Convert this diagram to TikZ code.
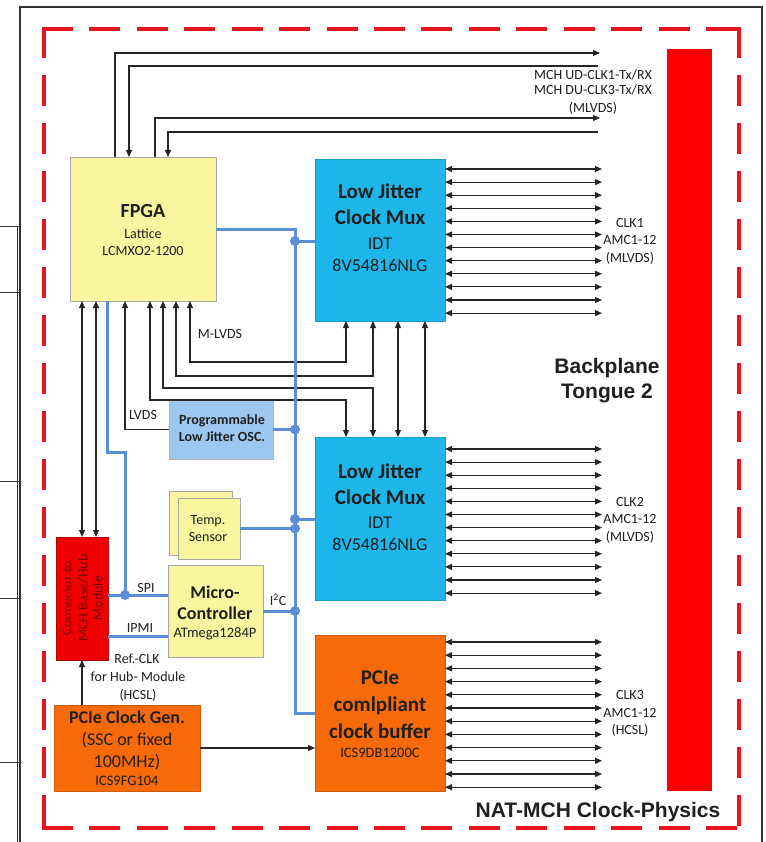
\documentclass[tikz,border=0pt]{standalone}
\usepackage{fontspec}
\setmainfont{Carlito}
\newfontfamily\headfont{Liberation Sans}
\usetikzlibrary{arrows.meta,calc}
\definecolor{yel}{HTML}{FAF6A0}
\definecolor{cyanbox}{HTML}{1CB6EA}
\definecolor{oscblue}{HTML}{9CC8F0}
\definecolor{orng}{HTML}{F86A08}
\definecolor{busblue}{HTML}{5A8FD8}
\definecolor{dashred}{HTML}{E8141E}
\definecolor{conred}{HTML}{F00000}
\definecolor{darkred}{HTML}{7A0000}
\newcommand\myfs[1]{\fontsize{#1}{#1}\selectfont}
\begin{document}
\begin{tikzpicture}[x=1pt,y=-1pt,
  box/.style={anchor=north west, inner sep=0pt, outer sep=0pt, line width=0.6pt},
  tx/.style={anchor=base, inner sep=0pt, text=black!88},
  ln/.style={draw=black!85, line width=1.1pt},
  ar/.style={ln, -{Triangle[length=7pt,width=6pt]}},
  dar/.style={ln, {Triangle[length=7pt,width=6pt]}-{Triangle[length=7pt,width=6pt]}},
  bus/.style={draw=busblue, line width=3pt},
  jdot/.style={circle, fill=busblue, inner sep=0pt, minimum size=10pt},
  frameln/.style={draw=black!80, line width=0.8pt},
]
\useasboundingbox (0,0) rectangle (765,842);
\fill[white] (0,0) rectangle (765,842);

% page frame and table remnants
\draw[draw=black!80, line width=1.5pt] (20,842) -- (20,7) -- (762,7) -- (762,842);
\draw[frameln] (17,226) -- (17,842);
\foreach \yy in {226,292,481,598,762} \draw[frameln] (0,\yy) -- (20,\yy);

% red dashed frame
\begin{scope}[draw=dashred, line width=4pt, line cap=rect]
  \draw[dash pattern=on 27pt off 20.43pt] (44,29) -- (739,29);
  \draw[dash pattern=on 27pt off 20.43pt] (44,828) -- (739,828);
  \draw[dash pattern=on 27pt off 21pt] (44,29) -- (44,828);
  \draw[dash pattern=on 27pt off 21pt] (739,29) -- (739,828);
\end{scope}

% backplane bar
\node[box, fill=red, minimum width=45pt, minimum height=742pt] (bp) at (667,49) {};

% boxes
\node[box, fill=yel, draw=black!35, minimum width=146pt, minimum height=144pt] (fpga) at (70,157) {};
\node[box, fill=cyanbox, draw=cyanbox!85!black, minimum width=130pt, minimum height=162pt] (mux1) at (315,159) {};
\node[box, fill=cyanbox, draw=cyanbox!85!black, minimum width=130pt, minimum height=163pt] (mux2) at (315,437) {};
\node[box, fill=orng, draw=orng!85!black, minimum width=130pt, minimum height=156pt] (pcie) at (315,635) {};
\node[box, fill=oscblue, draw=black!30, minimum width=104pt, minimum height=59pt] (osc) at (169,400) {};
\node[box, fill=yel, draw=black!35, minimum width=63pt, minimum height=64pt] (tempb) at (169,491) {};
\node[box, fill=yel, draw=black!35, minimum width=62pt, minimum height=61pt] (tempf) at (178,498) {};
\node[box, fill=yel, draw=black!35, minimum width=95pt, minimum height=92pt] (micro) at (168,565) {};
\node[box, fill=conred, draw=conred!75!black, minimum width=52pt, minimum height=123pt] (conn) at (56,537) {};
\node[box, fill=orng, draw=orng!85!black, minimum width=146pt, minimum height=86pt] (gen) at (54,705) {};

% box texts
\node[tx, font=\myfs{20}\bfseries] (fpgaA) at (143,218) {FPGA};
\node[tx, font=\myfs{14}] (fpgaB) at (143,238.5) {Lattice};
\node[tx, font=\myfs{14}] (fpgaC) at (143,255.5) {LCMXO2-1200};

\node[tx, font=\myfs{21}\bfseries] (m1a) at (380,199) {Low Jitter};
\node[tx, font=\myfs{21}\bfseries] (m1b) at (380,225) {Clock Mux};
\node[tx, font=\myfs{18}] (m1c) at (380,249) {IDT};
\node[tx, font=\myfs{18}] (m1d) at (380,271) {8V54816NLG};

\node[tx, font=\myfs{21}\bfseries] (m2a) at (380,478) {Low Jitter};
\node[tx, font=\myfs{21}\bfseries] (m2b) at (380,504) {Clock Mux};
\node[tx, font=\myfs{18}] (m2c) at (380,528) {IDT};
\node[tx, font=\myfs{18}] (m2d) at (380,550) {8V54816NLG};

\node[tx, font=\myfs{21}\bfseries] (pa) at (380,684) {PCIe};
\node[tx, font=\myfs{21}\bfseries] (pb) at (380,711) {comlpliant};
\node[tx, font=\myfs{21}\bfseries] (pc) at (380,738) {clock buffer};
\node[tx, font=\myfs{14.5}] (pd) at (380,757.5) {ICS9DB1200C};

\node[tx, font=\myfs{14}\bfseries] (oa) at (222,424.5) {Programmable};
\node[tx, font=\myfs{14}\bfseries] (ob) at (222,441.5) {Low Jitter OSC.};

\node[tx, font=\myfs{14}] (ta) at (208,524.5) {Temp.};
\node[tx, font=\myfs{14}] (tb) at (208,541.5) {Sensor};

\node[tx, font=\myfs{18}\bfseries] (ua) at (215,598) {Micro-};
\node[tx, font=\myfs{18}\bfseries] (ub) at (215,619) {Controller};
\node[tx, font=\myfs{14.5}] (uc) at (215,637.5) {ATmega1284P};

\node[tx, font=\myfs{18}\bfseries] (ga) at (127,723) {PCIe Clock Gen.};
\node[tx, font=\myfs{18}] (gb) at (127,745) {(SSC or fixed};
\node[tx, font=\myfs{18}] (gc) at (127,767) {100MHz)};
\node[tx, font=\myfs{14.5}] (gd) at (127,785.5) {ICS9FG104};

\node[tx, font=\myfs{14}, text=darkred, rotate=90] (ca) at (71.5,598) {Connector to};
\node[tx, font=\myfs{14}, text=darkred, rotate=90] (cb) at (87.5,598) {MCH Base/Hub};
\node[tx, font=\myfs{14}, text=darkred, rotate=90] (cc) at (102.5,598) {Module};

% labels
\node[tx, font=\myfs{14}] (la1) at (593,79.5) {MCH UD-CLK1-Tx/RX};
\node[tx, font=\myfs{14}] (la2) at (593,94.5) {MCH DU-CLK3-Tx/RX};
\node[tx, font=\myfs{14}] (la3) at (593,112.5) {(MLVDS)};

\node[tx, font=\myfs{14}] (c1a) at (630,227) {CLK1};
\node[tx, font=\myfs{14}] (c1b) at (630,244.5) {AMC1-12};
\node[tx, font=\myfs{14}] (c1c) at (630,262) {(MLVDS)};
\node[tx, font=\myfs{14}] (c2a) at (630,506) {CLK2};
\node[tx, font=\myfs{14}] (c2b) at (630,523.5) {AMC1-12};
\node[tx, font=\myfs{14}] (c2c) at (630,541) {(MLVDS)};
\node[tx, font=\myfs{14}] (c3a) at (630,699.5) {CLK3};
\node[tx, font=\myfs{14}] (c3b) at (630,717.5) {AMC1-12};
\node[tx, font=\myfs{14}] (c3c) at (630,734.5) {(HCSL)};

\node[tx, font=\headfont\myfs{21}\bfseries] (bpa) at (607,373) {Backplane};
\node[tx, font=\headfont\myfs{21}\bfseries] (bpb) at (607,398) {Tongue 2};
\node[tx, font=\headfont\myfs{21}\bfseries] (nat) at (598,817) {NAT-MCH Clock-Physics};

\node[tx, font=\myfs{14}] (lmlvds) at (220,338.5) {M-LVDS};
\node[tx, font=\myfs{14}] (llvds) at (143,419.5) {LVDS};
\node[tx, font=\myfs{14}] (lspi) at (146,592.5) {SPI};
\node[tx, font=\myfs{14}] (lipmi) at (140,632.5) {IPMI};
\node[tx, font=\myfs{14}] (li2c) at (278,605.5) {I\textsuperscript{2}C};
\node[tx, font=\myfs{14}] (lr1) at (137,663.5) {Ref.-CLK};
\node[tx, font=\myfs{14}] (lr2) at (138,681.5) {for Hub- Module};
\node[tx, font=\myfs{14}] (lr3) at (138,699.5) {(HCSL)};

% top lines to backplane
\coordinate (t1) at (600,53);
\coordinate (t2) at (598,66);
\coordinate (t3) at (600,118);
\coordinate (t4) at (598,132);
\draw[ar] ([xshift=45pt]fpga.north west) |- (t1);
\draw[ar] (t2) -| ([xshift=59pt]fpga.north west);
\draw[ar] ([xshift=85pt]fpga.north west) |- (t3);
\draw[ar] (t4) -| ([xshift=98pt]fpga.north west);

% right bundles
\foreach \i in {0,...,11} {
  \coordinate (ra\i) at (602,{169+13.1*\i});
  \draw[dar] (ra\i -| mux1.east) -- (ra\i);
  \coordinate (rb\i) at (602,{449+13.1*\i});
  \draw[dar] (rb\i -| mux2.east) -- (rb\i);
  \coordinate (rc\i) at (602,{642+13.2*\i});
  \draw[dar] (rc\i -| pcie.east) -- (rc\i);
}

% FPGA <-> connector
\coordinate (f1) at ([xshift=12pt]fpga.south west);
\coordinate (f2) at ([xshift=26pt]fpga.south west);
\draw[dar] (f1) -- (f1 |- conn.north);
\draw[dar] (f2) -- (f2 |- conn.north);

% OSC -> FPGA
\coordinate (k1) at (125,0);
\draw[ar] (osc.west) -- (osc.west -| k1) -- (k1 |- fpga.south);

% FPGA <-> muxes
\coordinate (h1a) at (150,400); \coordinate (h1b) at (346,400);
\draw[dar] (h1a |- fpga.south) -- (h1a) -- (h1b) -- (h1b |- mux2.north);
\coordinate (h2a) at (163,388); \coordinate (h2b) at (373,388);
\draw[dar] (h2a |- fpga.south) -- (h2a) -- (h2b) -- (h2b |- mux2.north);
\coordinate (h3a) at (176,376); \coordinate (h3b) at (373,376);
\draw[dar] (h3a |- fpga.south) -- (h3a) -- (h3b) -- (h3b |- mux1.south);
\coordinate (h4a) at (190,362); \coordinate (h4b) at (346,362);
\draw[dar] (h4a |- fpga.south) -- (h4a) -- (h4b) -- (h4b |- mux1.south);

% mux1 <-> mux2
\coordinate (v1) at ([xshift=83pt]mux1.south west);
\coordinate (v2) at ([xshift=110pt]mux1.south west);
\draw[dar] (v1) -- (v1 |- mux2.north);
\draw[dar] (v2) -- (v2 |- mux2.north);

% clock gen arrows
\coordinate (g1) at ([xshift=28pt]gen.north west);
\draw[ar] (g1) -- (g1 |- conn.south);
\draw[ar] (gen.east) -- (gen.east -| pcie.west);

% blue bus
\coordinate (bt) at (295,229);
\coordinate (bb) at (295,713);
\draw[bus] (fpga.east) -- (bt) -- (bb) -- (bb -| pcie.west);
\coordinate (j1) at (295,241);
\coordinate (j3) at (295,519);
\draw[bus] (j1) -- (j1 -| mux1.west);
\draw[bus] (j3) -- (j3 -| mux2.west);
\draw[bus] (osc.east) -- (osc.east -| bt);
\draw[bus] (tempf.east) -- (tempf.east -| bt);
\draw[bus] (micro.east) -- (micro.east -| bt);
\node[jdot] (d1) at (j1) {};
\node[jdot] (d2) at (osc.east -| bt) {};
\node[jdot] (d3) at (j3) {};
\node[jdot] (d4) at (tempf.east -| bt) {};
\node[jdot] (d5) at (micro.east -| bt) {};

% SPI / IPMI
\coordinate (spi) at ([yshift=-30pt]micro.north west);
\coordinate (ipmi) at ([yshift=-71pt]micro.north west);
\draw[bus] (spi -| conn.east) -- (spi);
\draw[bus] (ipmi -| conn.east) -- (ipmi);
\coordinate (b1) at ([xshift=37pt]fpga.south west);
\coordinate (b2) at (125,452);
\draw[bus] (b1) -- (b1 |- b2) -- (b2) -- (b2 |- spi);
\node[jdot] (d6) at (b2 |- spi) {};
\end{tikzpicture}
\end{document}
